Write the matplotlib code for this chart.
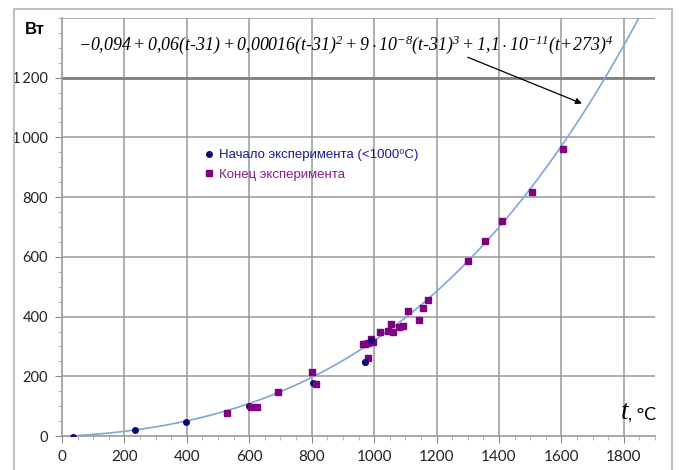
import matplotlib.pyplot as plt
import matplotlib.patches as patches
import numpy as np
from matplotlib.ticker import MultipleLocator

# данные
t_start = [35, 235, 398, 600, 805, 971, 989]
p_start = [-3, 19, 46, 101, 179, 248, 320]

t_end = [530, 607, 625, 693, 801, 814, 963, 971, 982, 989, 998, 980, 1018, 1043,
         1053, 1059, 1081, 1094, 1107, 1143, 1157, 1173, 1300, 1355, 1409, 1507, 1604]
p_end = [76, 96, 98, 149, 215, 174, 309, 309, 313, 324, 316, 261, 347, 351,
         375, 348, 365, 367, 418, 387, 430, 457, 585, 653, 719, 818, 960]

x_ticks = [0, 200, 400, 600, 800, 1000, 1200, 1400, 1600, 1800]
y_ticks = [0, 200, 400, 600, 800, 1000, 1200]
y_labels = ['0', '200', '400', '600', '800', '1\u2009000', '1\u2009200']


def fit(t):
    return (-0.094 + 0.06 * (t - 31) + 0.00016 * (t - 31) ** 2
            + 9e-8 * (t - 31) ** 3 + 1.1e-11 * (t + 273) ** 4)


plt.rcParams['font.family'] = ['Lato', 'DejaVu Sans']
plt.rcParams['mathtext.fontset'] = 'custom'
plt.rcParams['mathtext.rm'] = 'Liberation Serif:italic'
plt.rcParams['mathtext.it'] = 'Liberation Serif:italic'

fig = plt.figure(figsize=(6.81, 4.70), dpi=100)
fig.patches.append(patches.Rectangle((14 / 681, -0.05), 658 / 681, 1.05 - 9 / 470,
                                     transform=fig.transFigure, fill=False,
                                     edgecolor='#c0c0c0', lw=1.5))
ax = fig.add_axes([62 / 681, 34 / 470, 593 / 681, 418 / 470])

ax.set_xlim(0, 1900)
ax.set_ylim(0, 1400)
ax.set_xticks(x_ticks)
ax.set_yticks(y_ticks)
ax.set_yticklabels(y_labels)
ax.xaxis.set_minor_locator(MultipleLocator(50))
ax.yaxis.set_minor_locator(MultipleLocator(50))
ax.tick_params(axis='both', which='major', length=5, color='#888888',
               labelsize=11, labelcolor='#222222')
ax.tick_params(axis='both', which='minor', length=3, color='#aaaaaa')
ax.tick_params(axis='x', pad=5)
ax.tick_params(axis='y', pad=5, labelsize=10.5)

for s in ['top', 'right']:
    ax.spines[s].set_visible(False)
for s in ['left', 'bottom']:
    ax.spines[s].set_color('#999999')
    ax.spines[s].set_linewidth(1.2)

for x in x_ticks[1:]:
    ax.axvline(x, color='#999999', lw=1.1, zorder=0)
for y in y_ticks[1:] + [1400]:
    ax.axhline(y, color='#999999', lw=1.1, zorder=0)
ax.axhline(1200, color='#808080', lw=2, zorder=0)

tt = np.linspace(31, 1870, 300)
ax.plot(tt, fit(tt), color='#7fa6d6', lw=1.2, zorder=2)

ax.plot(t_start, p_start, 'o', color='#0a0a78', ms=4, zorder=3,
        label='Начало эксперимента (<1000\u2070C)')
ax.plot(t_end, p_end, 's', color='#800080', ms=5, zorder=3,
        label='Конец эксперимента')
ax.plot(t_start[-2:], p_start[-2:], 'o', color='#0a0a78', ms=4, zorder=4)

leg = ax.legend(loc='upper left', bbox_to_anchor=(0.215, 0.715), frameon=False,
                handletextpad=0.1, handlelength=1.2, labelspacing=0.55,
                prop={'family': ['Liberation Sans', 'DejaVu Sans'], 'size': 9.5})
leg.get_texts()[0].set_color('#1a1a8c')
leg.get_texts()[1].set_color('#8b1a8b')

formula = (r'$-0{,}094+0{,}06(t\text{-}31)+0{,}00016(t\text{-}31)^2'
           r'+9\cdot10^{-8}(t\text{-}31)^3+1{,}1\cdot10^{-11}(t\!+\!273)^4$')
ax.text(50, 1312, formula, fontsize=12.9, va='center', ha='left', color='black')

ax.annotate('', xy=(1674, 1110), xytext=(1292, 1272),
            arrowprops=dict(arrowstyle='-|>', color='black', lw=0.9,
                            mutation_scale=9))

ax.text(-87, 1360, 'Вт', fontsize=12, fontweight='bold',
        ha='center', va='center', family='Liberation Sans')
ax.text(1790, 80, 't', fontsize=20, ha='left', va='center', style='italic',
        family='Liberation Serif')
ax.text(1815, 72, ', °C', fontsize=13, ha='left', va='center')

fig.savefig('out.png', dpi=100)
